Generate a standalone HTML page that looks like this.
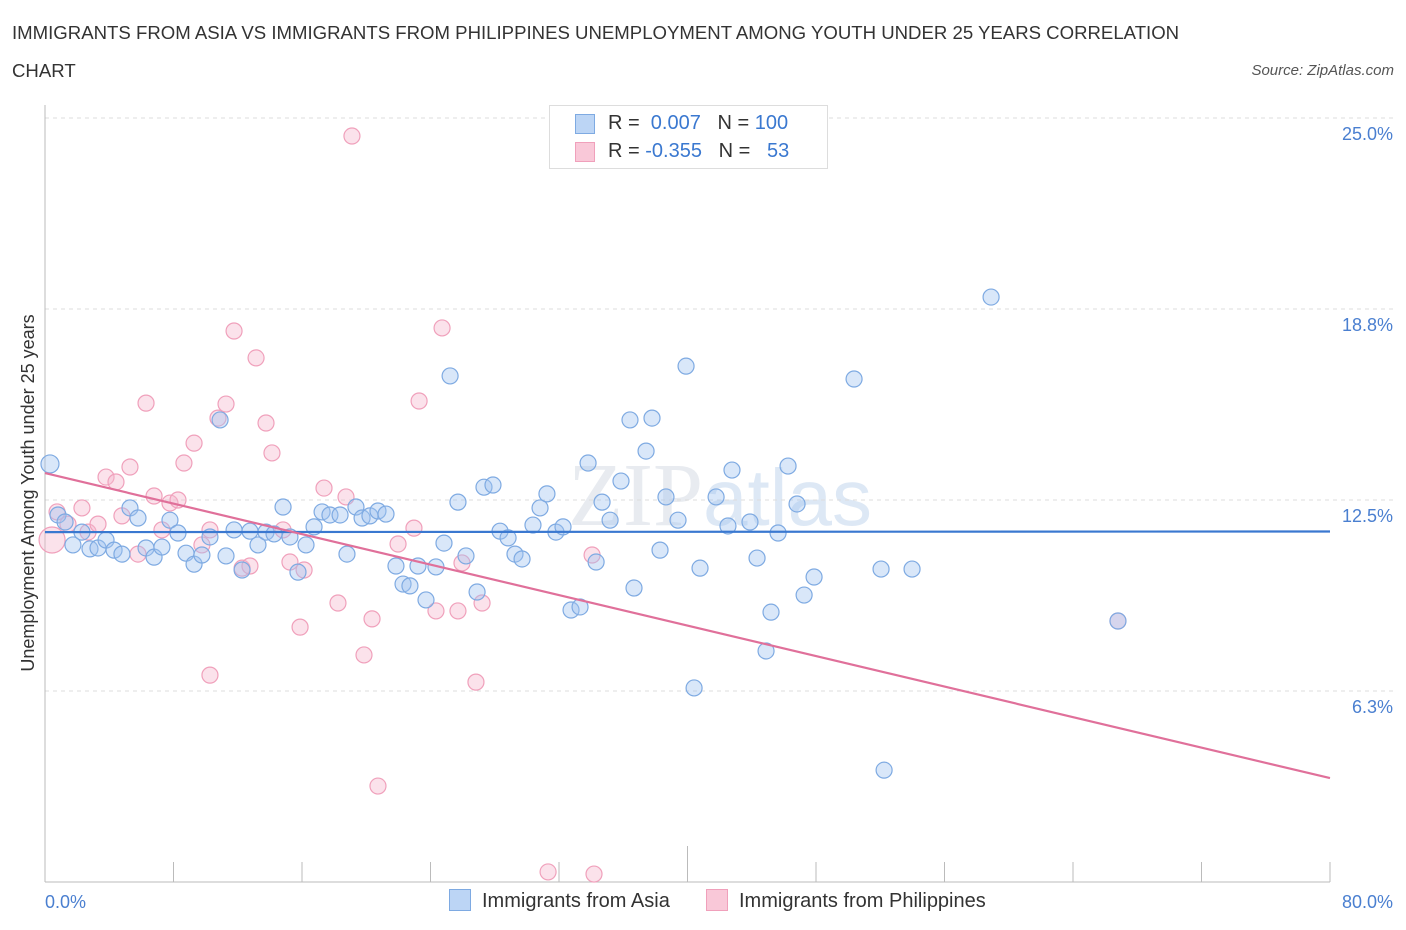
<!DOCTYPE html>
<html><head><meta charset="utf-8"><style>
body{margin:0;background:#fff;font-family:"Liberation Sans",sans-serif;}
#wrap{position:relative;width:1406px;height:930px;overflow:hidden;}
.t{position:absolute;white-space:nowrap;}
</style></head><body>
<div id="wrap">
<div class="t" style="left:12px;top:14px;font-size:18.6px;color:#333;line-height:38px;width:1190px;white-space:normal">IMMIGRANTS FROM ASIA VS IMMIGRANTS FROM PHILIPPINES UNEMPLOYMENT AMONG YOUTH UNDER 25 YEARS CORRELATION CHART</div>
<div class="t" style="right:12px;top:62px;font-size:15px;color:#555;font-style:italic">Source: ZipAtlas.com</div>
<svg id="svg" width="1406" height="930" style="position:absolute;left:0;top:0"></svg>
</div>
<script>
const xTicks=[0,80];
const yTicks=[6.25,12.5,18.75,25];
const yTickLabels=["6.3%","12.5%","18.8%","25.0%"];
const asiaX=[0.31,0.81,1.25,1.74,2.30,2.80,3.30,3.80,4.30,4.79,5.29,5.79,6.29,6.79,7.28,7.78,8.28,8.78,9.28,9.77,10.27,10.90,11.27,11.77,12.27,12.76,13.26,13.76,14.26,14.82,15.25,15.75,16.25,16.75,17.25,17.74,18.37,18.80,19.36,19.74,20.23,20.73,21.23,21.85,22.29,22.72,23.22,23.72,24.34,24.84,25.22,25.71,26.21,26.90,27.33,27.89,28.33,28.83,29.26,29.70,30.38,30.82,31.25,31.81,32.25,32.75,33.31,33.81,34.31,34.68,35.18,35.86,36.42,36.67,37.42,37.79,38.29,38.66,39.41,39.91,40.41,40.78,41.78,42.52,42.77,43.89,44.33,44.89,45.20,45.64,46.26,46.82,47.26,47.88,50.37,52.05,52.24,53.98,58.90,66.80];
const asiaY=[13.68,12.01,11.78,11.03,11.45,10.90,10.93,11.19,10.86,10.73,12.24,11.91,10.93,10.63,10.96,11.84,11.42,10.76,10.40,10.70,11.29,15.12,10.67,11.52,10.21,11.48,11.03,11.45,11.39,12.27,11.29,10.14,11.03,11.62,12.11,12.01,12.01,10.73,12.27,11.91,11.98,12.14,12.04,10.34,9.75,9.69,10.34,9.23,10.31,11.09,16.56,12.43,10.67,9.49,12.92,12.99,11.48,11.26,10.73,10.57,11.68,12.24,12.70,11.45,11.62,8.90,9.00,13.71,10.47,12.43,11.84,13.12,15.12,9.62,14.10,15.18,10.86,12.60,11.84,16.88,6.35,10.27,12.60,11.65,13.48,11.78,10.60,7.56,8.83,11.42,13.61,12.37,9.39,9.98,16.46,10.24,3.66,10.24,19.14,8.54];
const phX=[0.44,0.75,1.43,2.30,2.68,3.30,3.80,4.42,4.79,5.29,5.79,6.29,6.79,7.28,7.78,8.28,8.65,9.28,9.77,10.27,10.27,10.77,11.27,11.77,12.27,12.76,13.14,13.76,14.13,14.82,15.25,15.88,16.13,17.37,18.24,18.74,19.11,19.86,20.36,20.73,21.98,22.97,23.29,24.34,24.72,25.71,25.96,26.83,27.21,31.32,34.06,34.18,66.80];
const phY=[11.19,12.11,11.71,12.24,11.45,11.71,13.25,13.09,11.98,13.58,10.73,15.67,12.63,11.52,12.40,12.50,13.71,14.36,11.03,11.52,6.77,15.18,15.64,18.03,10.27,10.34,17.15,15.02,14.04,11.52,10.47,8.34,10.21,12.89,9.13,12.60,24.41,7.43,8.61,3.14,11.06,11.58,15.74,8.87,18.13,8.87,10.44,6.54,9.13,0.33,10.70,0.26,8.54];
const asiaTrend=[11.45,11.47];
const phTrend=[13.38,3.40];

const NS="http://www.w3.org/2000/svg";
const svg=document.getElementById('svg');
const X0=45,X1=1330,Y0=882,Ytop=118;
const sx=v=>X0+(v-0)/(80-0)*(X1-X0);
const sy=v=>Y0-(v/25)*(Y0-Ytop);
function mk(tag,at){const e=document.createElementNS(NS,tag);for(const k in at)e.setAttribute(k,at[k]);svg.appendChild(e);return e;}
let wm=mk('text',{x:720,y:525,'text-anchor':'middle','font-size':90,'font-family':'Liberation Serif',fill:'#e8ebf0'});


wm.innerHTML='ZIP<tspan font-family="Liberation Sans" fill="#dde8f5" font-size="80">atlas</tspan>';
yTicks.forEach((v,i)=>{
 let g=mk('line',{x1:X0,x2:1395,y1:sy(v),y2:sy(v),stroke:'#ddd','stroke-dasharray':'4,4'});
 
 
 let t=mk('text',{x:1393,y:sy(v)+22,'text-anchor':'end','font-size':18,fill:'#4a7fd0'});
 
 
 t.textContent=yTickLabels[i];
});
let ax=mk('line',{x1:X0,x2:X0,y1:105,y2:Y0,stroke:'#bbb'});


let bx=mk('line',{x1:X0,x2:X1,y1:Y0,y2:Y0,stroke:'#bbb'});


for(let i=0;i<=10;i++){
 const v=i*8;let tk=mk('line',{x1:sx(v),x2:sx(v),y1:i==5?846:862,y2:Y0,stroke:'#bbb'});
 
 
}
xTicks.forEach((v,i)=>{
 let t=mk('text',{x:i==0?45:1393,y:908,'text-anchor':i==0?'start':'end','font-size':18,fill:'#4a7fd0'});
 
 
 t.textContent=v.toFixed(1)+'%';
});
let yt=mk('text',{x:34,y:493,'text-anchor':'middle','font-size':18,fill:'#333',transform:'rotate(-90 34 493)'});


yt.textContent='Unemployment Among Youth under 25 years';
function pts(xs,ys,fill,stroke,name){
 xs.forEach((x,i)=>{
  const big=(i==0);
  let c=mk('circle',{cx:sx(x),cy:sy(ys[i]),r:big?(name=='asia-point'?9:13):8,fill:fill,stroke:stroke,'stroke-width':1.2});
  
  
 });
}
pts(phX,phY,'rgba(246,182,204,0.4)','#f0a0bb','philippines-point');
pts(asiaX,asiaY,'rgba(160,196,240,0.4)','#7eaae2','asia-point');
let l1=mk('line',{x1:sx(0),x2:sx(80),y1:sy(asiaTrend[0]),y2:sy(asiaTrend[1]),stroke:'#3a78d0','stroke-width':2.2});


let l2=mk('line',{x1:sx(0),x2:sx(80),y1:sy(phTrend[0]),y2:sy(phTrend[1]),stroke:'#e0709a','stroke-width':2.2});


</script>
<div class="t" style="left:549px;top:105px;width:277px;height:62px;border:1px solid #ddd;background:#fff;font-size:20px;color:#333">
 <div style="position:absolute;left:25px;top:8px;width:18px;height:18px;background:#bcd5f5;border:1px solid #7eaae2"></div>
 <div style="position:absolute;left:58px;top:6px">R = <span style="color:#3a78d0">&nbsp;0.007</span>&nbsp;&nbsp;&nbsp;N = <span style="color:#3a78d0">100</span></div>
 <div style="position:absolute;left:25px;top:36px;width:18px;height:18px;background:#f9c8d8;border:1px solid #f0a0bb"></div>
 <div style="position:absolute;left:58px;top:34px">R = <span style="color:#3a78d0">-0.355</span>&nbsp;&nbsp;&nbsp;N = <span style="color:#3a78d0">&nbsp;&nbsp;53</span></div>
</div>
<div class="t" style="left:449px;top:889px;font-size:20px;color:#333"><span style="display:inline-block;width:20px;height:20px;background:#bcd5f5;border:1px solid #7eaae2;vertical-align:-4px;margin-right:11px"></span>Immigrants from Asia</div>
<div class="t" style="left:706px;top:889px;font-size:20px;color:#333"><span style="display:inline-block;width:20px;height:20px;background:#f9c8d8;border:1px solid #f0a0bb;vertical-align:-4px;margin-right:11px"></span>Immigrants from Philippines</div>
</body></html>
